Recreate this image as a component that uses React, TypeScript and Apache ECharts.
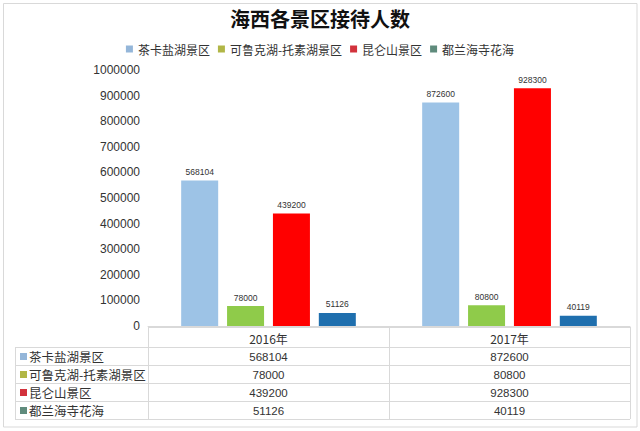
import React, { useEffect, useRef } from "react";
import * as echarts from "echarts";

const titleText = "海西各景区接待人数";
const categories = ["2016年", "2017年"];
const seriesNames = ["茶卡盐湖景区", "可鲁克湖-托素湖景区", "昆仑山景区", "都兰海寺花海"];
const chakaValues = [568104, 872600];
const kelukeValues = [78000, 80800];
const kunlunValues = [439200, 928300];
const dulanValues = [51126, 40119];
const yTicks = { min: 0, max: 1000000, interval: 100000 };

const barColors = ["#9DC3E6", "#8FCB4A", "#FF0000", "#1F6FAE"];
const swatchColors = ["#94B6D9", "#B1B646", "#D2323C", "#5F8B7C"];

const W = 640;
const H = 431;
const NUM_FONT = "'Liberation Sans', Arial, sans-serif";
const CJK_FONT = "'Noto Sans CJK SC', 'Liberation Sans', sans-serif";

export default function App() {
  const ref = useRef<HTMLDivElement>(null);
  useEffect(() => {
    if (!ref.current) return;
    const chart = echarts.init(ref.current, undefined, { renderer: "svg" });
    const allValues = [chakaValues, kelukeValues, kunlunValues, dulanValues];

    const tLeft = 15;
    const tSplit = 148;
    const tRight = 630;
    const headTop = 327;
    const headBottom = 347;
    const rowH = 18;
    const colW = (tRight - tSplit) / categories.length;
    const lineColor = "#D9D9D9";
    const g: any[] = [];

    g.push({
      type: "rect",
      shape: { x: 3.5, y: 3.5, width: 633.5, height: 423.5 },
      style: { fill: "none", stroke: "#D9D9D9", lineWidth: 1 },
      silent: true,
    });

    const tableBottom = headBottom + rowH * seriesNames.length;
    g.push({ type: "line", shape: { x1: tSplit, y1: headTop + 0.5, x2: tRight, y2: headTop + 0.5 }, style: { stroke: lineColor, lineWidth: 1 } });
    for (let i = 0; i <= seriesNames.length; i++) {
      const y = headBottom + i * rowH + 0.5;
      g.push({ type: "line", shape: { x1: tLeft, y1: y, x2: tRight, y2: y }, style: { stroke: lineColor, lineWidth: 1 } });
    }
    g.push({ type: "line", shape: { x1: tLeft + 0.5, y1: headBottom, x2: tLeft + 0.5, y2: tableBottom }, style: { stroke: lineColor, lineWidth: 1 } });
    for (let c = 0; c <= categories.length; c++) {
      const x = tSplit + c * colW + 0.5;
      g.push({ type: "line", shape: { x1: x, y1: headTop, x2: x, y2: tableBottom }, style: { stroke: lineColor, lineWidth: 1 } });
    }
    categories.forEach((cat, c) => {
      g.push({
        type: "text",
        x: tSplit + c * colW + colW / 2,
        y: (headTop + headBottom) / 2 + 1,
        style: { text: cat, fill: "#333", font: `12px ${CJK_FONT}`, align: "center", verticalAlign: "middle" },
      });
    });
    seriesNames.forEach((name, i) => {
      const cy = headBottom + i * rowH + rowH / 2 + 0.5;
      g.push({ type: "rect", shape: { x: 20, y: cy - 3.5, width: 7, height: 7 }, style: { fill: swatchColors[i] } });
      g.push({
        type: "text",
        x: 29,
        y: cy,
        style: { text: name, fill: "#333", font: `12.5px ${CJK_FONT}`, align: "left", verticalAlign: "middle" },
      });
      allValues[i].forEach((v, c) => {
        g.push({
          type: "text",
          x: tSplit + c * colW + colW / 2,
          y: cy,
          style: { text: String(v), fill: "#333", font: `11.5px ${NUM_FONT}`, align: "center", verticalAlign: "middle" },
        });
      });
    });

    chart.setOption({
      animation: false,
      backgroundColor: "#fff",
      title: {
        text: titleText,
        left: "center",
        top: 3,
        textStyle: { fontSize: 20, fontWeight: "bold", color: "#111", fontFamily: CJK_FONT },
      },
      legend: {
        top: 38,
        left: "center",
        itemWidth: 7,
        itemHeight: 7,
        itemGap: 8,
        itemTextGap: 4,
        icon: "rect",
        textStyle: { fontSize: 12, color: "#333", fontFamily: CJK_FONT },
        data: seriesNames.map((n, i) => ({ name: n, icon: "rect", itemStyle: { color: swatchColors[i] } })),
      },
      grid: { left: 148, right: W - 630, top: 70, bottom: H - 326, containLabel: false },
      xAxis: {
        type: "category",
        data: categories,
        axisLine: { show: true, lineStyle: { color: "#D9D9D9", width: 1 } },
        axisTick: { show: false },
        axisLabel: { show: false },
      },
      yAxis: {
        type: "value",
        min: yTicks.min,
        max: yTicks.max,
        interval: yTicks.interval,
        axisLine: { show: false },
        axisTick: { show: false },
        splitLine: { show: false },
        axisLabel: {
          fontSize: 12,
          color: "#333",
          margin: 8,
          fontFamily: NUM_FONT,
          formatter: (v: number) => String(v),
        },
      },
      series: seriesNames.map((n, i) => ({
        name: n,
        type: "bar",
        data: allValues[i],
        barWidth: 37,
        barGap: "24%",
        itemStyle: { color: barColors[i] },
        label: {
          show: true,
          position: "top",
          distance: 4,
          fontSize: 8.5,
          color: "#333",
          fontFamily: NUM_FONT,
        },
      })),
      graphic: g,
    });
    return () => chart.dispose();
  }, []);
  return (
    <div
      ref={ref}
      style={{ position: "absolute", left: 0, top: 0, width: W, height: H }}
    />
  );
}
